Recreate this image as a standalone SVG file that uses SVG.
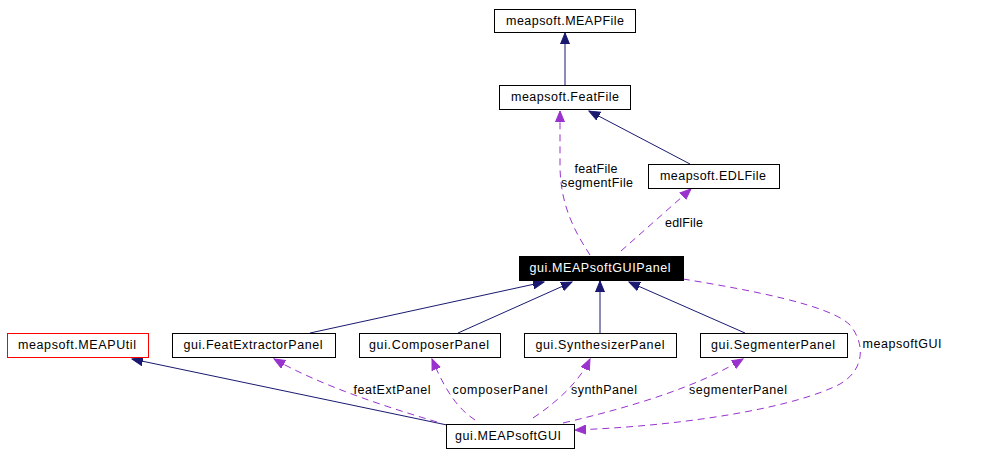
<svg xmlns="http://www.w3.org/2000/svg" width="983" height="456" viewBox="0 0 983 456">
<style>
.box{fill:#fff;stroke:#000;stroke-width:1}
.t{font-family:"Liberation Sans",Arial,sans-serif;font-size:12.5px;fill:#000;text-anchor:middle}
.inh{fill:none;stroke:#191970;stroke-width:1;marker-end:url(#an)}
.use{fill:none;stroke:#9a32cd;stroke-width:1;stroke-dasharray:7,5;marker-end:url(#ap)}
</style>
<defs>
<marker id="an" markerUnits="userSpaceOnUse" markerWidth="12" markerHeight="10" refX="11" refY="5" orient="auto"><path d="M0,0.5 L11,5 L0,9.5 z" fill="#191970" stroke="#191970"/></marker>
<marker id="ap" markerUnits="userSpaceOnUse" markerWidth="12" markerHeight="10" refX="11" refY="5" orient="auto"><path d="M0,0.5 L11,5 L0,9.5 z" fill="#9a32cd" stroke="#9a32cd"/></marker>
</defs>
<rect width="983" height="456" fill="#fff"/>
<g id="connectors">
<path class="inh" d="M565,85 L565,33"/>
<path class="inh" d="M690,164 L589,111"/>
<path class="use" d="M590,255 C575,232 560,205 560,165 L560,111"/>
<path class="use" d="M621,251 L691,189"/>
<path class="inh" d="M310,333 L544,282"/>
<path class="inh" d="M458,333 L572,282"/>
<path class="inh" d="M600,333 L600,281"/>
<path class="inh" d="M745,333 L629,282"/>
<path class="inh" d="M447,425 L132,359"/>
<path class="use" d="M437,422 C380,405 320,385 274,359"/>
<path class="use" d="M475,420 C460,410 447,395 432,359"/>
<path class="use" d="M533,418 C560,400 580,380 590,359"/>
<path class="use" d="M563,423 C640,405 700,385 743,359"/>
<path class="use" d="M683,279 C750,290 830,305 850,325 C866,345 864,370 840,384 C800,405 700,425 575,430"/>
<text class="t" x="596" y="173" textLength="43" lengthAdjust="spacing">featFile</text>
<text class="t" x="597" y="187" textLength="72" lengthAdjust="spacing">segmentFile</text>
<text class="t" x="684" y="227" textLength="38" lengthAdjust="spacing">edlFile</text>
<text class="t" x="392" y="394" textLength="77" lengthAdjust="spacing">featExtPanel</text>
<text class="t" x="500" y="394" textLength="95" lengthAdjust="spacing">composerPanel</text>
<text class="t" x="604" y="394" textLength="66" lengthAdjust="spacing">synthPanel</text>
<text class="t" x="738" y="394" textLength="98" lengthAdjust="spacing">segmenterPanel</text>
<text class="t" x="902" y="348" textLength="79" lengthAdjust="spacing">meapsoftGUI</text>
</g>
<g id="MEAPFile"><rect class="box" x="494.5" y="9.5" width="141" height="23"/><text class="t" x="565" y="25" textLength="118" lengthAdjust="spacing">meapsoft.MEAPFile</text></g>
<g id="FeatFile"><rect class="box" x="499.5" y="85.5" width="131" height="24"/><text class="t" x="565" y="101" textLength="108" lengthAdjust="spacing">meapsoft.FeatFile</text></g>
<g id="EDLFile"><rect class="box" x="648.5" y="164.5" width="131" height="24"/><text class="t" x="713" y="180" textLength="106" lengthAdjust="spacing">meapsoft.EDLFile</text></g>
<g id="MEAPsoftGUIPanel"><rect x="519" y="256" width="165" height="25" fill="#000"/><text class="t" x="600" y="272" textLength="141" lengthAdjust="spacing" style="fill:#fff">gui.MEAPsoftGUIPanel</text></g>
<g id="MEAPUtil"><rect class="box" x="7.5" y="333.5" width="141" height="24" style="stroke:#f00"/><text class="t" x="77" y="349" textLength="118" lengthAdjust="spacing">meapsoft.MEAPUtil</text></g>
<g id="FeatExtractorPanel"><rect class="box" x="172.5" y="333.5" width="163" height="24"/><text class="t" x="253" y="349" textLength="139" lengthAdjust="spacing">gui.FeatExtractorPanel</text></g>
<g id="ComposerPanel"><rect class="box" x="359.5" y="333.5" width="141" height="24"/><text class="t" x="429" y="349" textLength="120" lengthAdjust="spacing">gui.ComposerPanel</text></g>
<g id="SynthesizerPanel"><rect class="box" x="524.5" y="333.5" width="152" height="24"/><text class="t" x="600" y="349" textLength="129" lengthAdjust="spacing">gui.SynthesizerPanel</text></g>
<g id="SegmenterPanel"><rect class="box" x="700.5" y="333.5" width="147" height="24"/><text class="t" x="773" y="349" textLength="124" lengthAdjust="spacing">gui.SegmenterPanel</text></g>
<g id="MEAPsoftGUI"><rect class="box" x="446.5" y="424.5" width="128" height="24"/><text class="t" x="508" y="440" textLength="106" lengthAdjust="spacing">gui.MEAPsoftGUI</text></g>
</svg>
